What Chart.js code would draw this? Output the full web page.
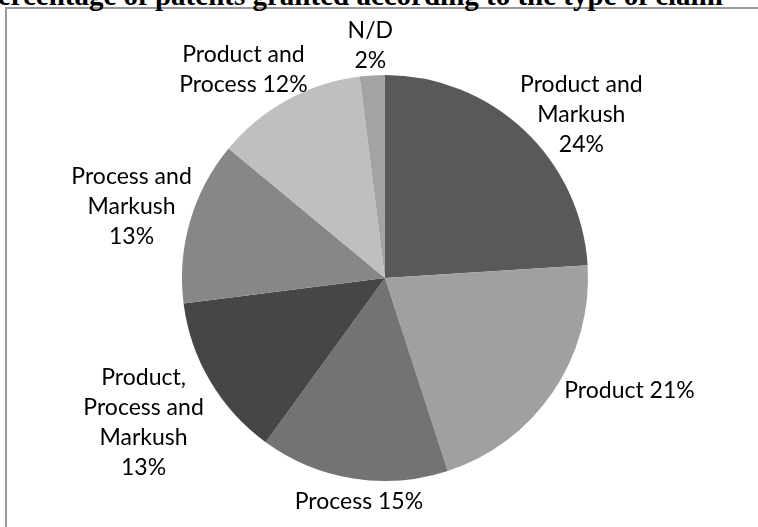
<!DOCTYPE html>
<html>
<head>
<meta charset="utf-8">
<script src="https://cdn.jsdelivr.net/npm/chart.js@4.4.1/dist/chart.umd.min.js"></script>
<style>
    html, body { margin: 0; padding: 0; background: #fff; overflow: hidden; }
    #wrap { position: relative; width: 758px; height: 527px; overflow: hidden; }
    #frame {
        position: absolute; left: 5px; top: 7px; width: 800px; height: 600px;
        border: 2px solid #9a9a9a; box-sizing: border-box;
    }
    #title {
        position: absolute; left: -20px; top: -19px; white-space: nowrap;
        font-family: "Liberation Serif", "Times New Roman", serif;
        font-weight: bold; font-size: 29px; line-height: 29px; color: #000;
    }
    canvas { position: absolute; left: 0; top: 0; }
</style>
</head>
<body>
<div id="wrap">
    <div id="frame"></div>
    <div id="title">Percentage of patents granted according to the type of claim</div>
    <canvas id="pieChart" width="758" height="527"></canvas>
</div>
<script>
const categories = ['Product and Markush', 'Product', 'Process', 'Product, Process and Markush',
    'Process and Markush', 'Product and Process', 'N/D'];
const shares = [24, 21, 15, 13, 13, 12, 2];
// how each category name is wrapped on the chart, and whether the percent gets its own line
const nameLines = [['Product and', 'Markush'], ['Product'], ['Process'], ['Product,', 'Process and', 'Markush'],
    ['Process and', 'Markush'], ['Product and', 'Process'], ['N/D']];
const pctOwnLine = [true, false, false, true, true, false, true];
const sliceColors = ['#595959', '#a0a0a0', '#737373', '#464646', '#878787', '#bfbfbf', '#a3a3a3'];

const labelFont = '23px Lato, "Open Sans", sans-serif';
const lineHeight = 30;
// small hand tweaks so labels sit where Excel's "best fit" put them
const labelNudge = [[10, 23], [16, -14], [17, 0], [-8, 7], [7, 0], [-9, 3], [0, 8]];

const outsideLabels = {
    id: 'outsideLabels',
    afterDatasetsDraw(chart) {
        const ctx = chart.ctx;
        const arcs = chart.getDatasetMeta(0).data;
        ctx.save();
        ctx.font = labelFont;
        ctx.fillStyle = '#000';
        ctx.textAlign = 'center';
        ctx.textBaseline = 'middle';
        arcs.forEach((arc, i) => {
            const lines = nameLines[i].slice();
            const pct = shares[i] + '%';
            if (pctOwnLine[i]) {
                lines.push(pct);
            } else {
                lines[lines.length - 1] += ' ' + pct;
            }
            const w = Math.max(...lines.map(l => ctx.measureText(l).width));
            const h = lines.length * lineHeight;
            const mid = (arc.startAngle + arc.endAngle) / 2;
            const dist = arc.outerRadius + 8;
            const cx = arc.x + Math.cos(mid) * (dist + w / 2) + labelNudge[i][0];
            const cy = arc.y + Math.sin(mid) * (dist + h / 2) + labelNudge[i][1];
            lines.forEach((line, k) => {
                ctx.fillText(line, cx, cy - h / 2 + lineHeight * (k + 0.5));
            });
        });
        ctx.restore();
    }
};

new Chart(document.getElementById('pieChart'), {
    type: 'pie',
    data: {
        labels: categories,
        datasets: [{
            data: shares,
            backgroundColor: sliceColors,
            borderWidth: 0,
        }],
    },
    options: {
        responsive: false,
        animation: false,
        layout: { padding: { left: 182, right: 170, top: 75, bottom: 46 } },
        plugins: {
            legend: { display: false },
            tooltip: { enabled: false },
        },
    },
    plugins: [outsideLabels],
});
</script>
</body>
</html>
